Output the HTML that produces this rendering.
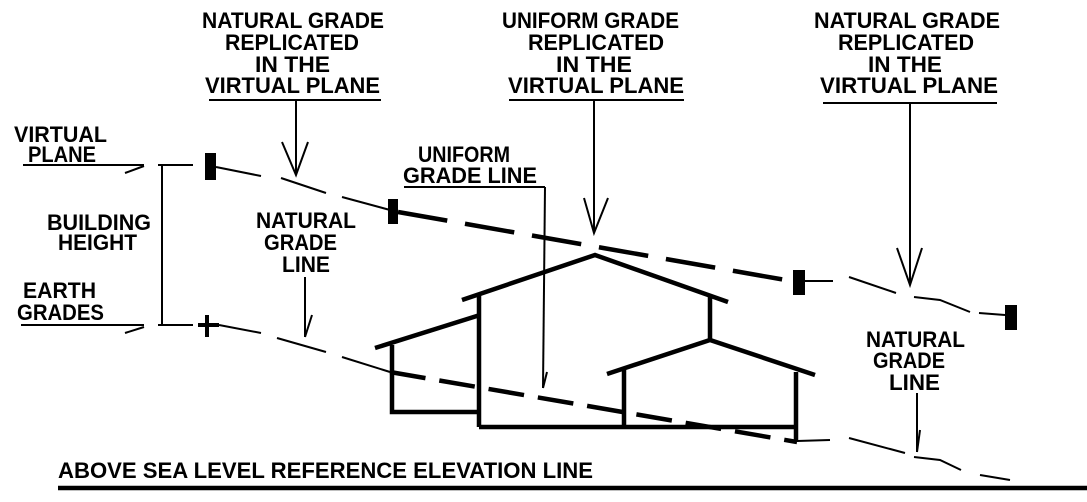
<!DOCTYPE html>
<html><head><meta charset="utf-8"><style>html,body{margin:0;padding:0;background:#fff}svg{display:block}</style></head>
<body>
<svg width="1087" height="502" viewBox="0 0 1087 502" xmlns="http://www.w3.org/2000/svg">
<g font-family="Liberation Sans, sans-serif" font-size="22" font-weight="bold" fill="#000">
<text x="202" y="28" textLength="182" lengthAdjust="spacingAndGlyphs">NATURAL GRADE</text>
<text x="225" y="50" textLength="134" lengthAdjust="spacingAndGlyphs">REPLICATED</text>
<text x="255" y="72" textLength="75" lengthAdjust="spacingAndGlyphs">IN THE</text>
<text x="205" y="93" textLength="175" lengthAdjust="spacingAndGlyphs">VIRTUAL PLANE</text>

<text x="502" y="28" textLength="177" lengthAdjust="spacingAndGlyphs">UNIFORM GRADE</text>
<text x="528" y="50" textLength="136" lengthAdjust="spacingAndGlyphs">REPLICATED</text>
<text x="556" y="72" textLength="76" lengthAdjust="spacingAndGlyphs">IN THE</text>
<text x="508" y="93" textLength="176" lengthAdjust="spacingAndGlyphs">VIRTUAL PLANE</text>

<text x="814" y="28" textLength="186" lengthAdjust="spacingAndGlyphs">NATURAL GRADE</text>
<text x="838" y="50" textLength="136" lengthAdjust="spacingAndGlyphs">REPLICATED</text>
<text x="868" y="72" textLength="74" lengthAdjust="spacingAndGlyphs">IN THE</text>
<text x="820" y="93" textLength="178" lengthAdjust="spacingAndGlyphs">VIRTUAL PLANE</text>

<text x="14" y="142" textLength="93" lengthAdjust="spacingAndGlyphs">VIRTUAL</text>
<text x="28" y="162" textLength="68" lengthAdjust="spacingAndGlyphs">PLANE</text>
<text x="47" y="230" textLength="104" lengthAdjust="spacingAndGlyphs">BUILDING</text>
<text x="58" y="250" textLength="79" lengthAdjust="spacingAndGlyphs">HEIGHT</text>
<text x="23" y="298" textLength="73" lengthAdjust="spacingAndGlyphs">EARTH</text>
<text x="17" y="320" textLength="87" lengthAdjust="spacingAndGlyphs">GRADES</text>

<text x="418" y="162" textLength="92" lengthAdjust="spacingAndGlyphs">UNIFORM</text>
<text x="403" y="183" textLength="134" lengthAdjust="spacingAndGlyphs">GRADE LINE</text>

<text x="256" y="228" textLength="100" lengthAdjust="spacingAndGlyphs">NATURAL</text>
<text x="264" y="250" textLength="73" lengthAdjust="spacingAndGlyphs">GRADE</text>
<text x="282" y="272" textLength="48" lengthAdjust="spacingAndGlyphs">LINE</text>

<text x="866" y="347" textLength="99" lengthAdjust="spacingAndGlyphs">NATURAL</text>
<text x="873" y="368" textLength="72" lengthAdjust="spacingAndGlyphs">GRADE</text>
<text x="889" y="390" textLength="51" lengthAdjust="spacingAndGlyphs">LINE</text>

<text x="58" y="478" textLength="535" lengthAdjust="spacingAndGlyphs">ABOVE SEA LEVEL REFERENCE ELEVATION LINE</text>
</g>

<g stroke="#000" fill="none" stroke-width="2">
<line x1="209" y1="100" x2="381" y2="100"/>
<line x1="509" y1="100" x2="684" y2="100"/>
<line x1="823" y1="103" x2="997" y2="103"/>
<line x1="23" y1="165" x2="144" y2="165"/>
<line x1="21" y1="325" x2="144" y2="325"/>
<line x1="404" y1="187" x2="545" y2="187"/>
<line x1="296" y1="100" x2="296" y2="175"/>
<polyline points="282,142 296,175 308,142"/>
<line x1="594" y1="100" x2="594" y2="233"/>
<polyline points="584,198 594,233 608,198"/>
<line x1="910" y1="103" x2="910" y2="285"/>
<polyline points="897,248 910,285 922,248"/>
<line x1="545" y1="187" x2="543" y2="388"/>
<line x1="547" y1="372" x2="543" y2="388"/>
<line x1="305" y1="277" x2="305" y2="337"/>
<line x1="312" y1="315" x2="305" y2="337"/>
<line x1="917" y1="393" x2="917" y2="452"/>
<line x1="920" y1="430" x2="917" y2="452"/>
<line x1="125" y1="173" x2="144" y2="166"/>
<line x1="125" y1="333" x2="144" y2="327"/>
<line x1="158" y1="165" x2="193" y2="165"/>
<line x1="158" y1="325" x2="193" y2="325"/>
<line x1="162" y1="165" x2="162" y2="325"/>
<polyline points="216,167 261,176"/>
<line x1="281" y1="178" x2="326" y2="193"/>
<line x1="342" y1="197" x2="390" y2="210"/>
<line x1="805" y1="281" x2="833" y2="281"/>
<line x1="849" y1="277" x2="896" y2="293"/>
<polyline points="914,297 940,300 970,312"/>
<line x1="979" y1="313" x2="1005" y2="315"/>
<line x1="198" y1="325" x2="219" y2="325" stroke-width="4"/>
<line x1="207" y1="315" x2="207" y2="337" stroke-width="4"/>
<line x1="219" y1="325" x2="261" y2="333"/>
<line x1="277" y1="338" x2="326" y2="352"/>
<line x1="342" y1="357" x2="390" y2="372"/>
<line x1="797" y1="441" x2="830" y2="440"/>
<line x1="849" y1="438" x2="905" y2="453"/>
<polyline points="914,457 940,460 961,470"/>
<line x1="980" y1="475" x2="1010" y2="480"/>
</g>

<g stroke="#000" fill="none" stroke-width="4.5">
<line x1="398" y1="212" x2="797" y2="282" stroke-dasharray="50,18"/>
<line x1="390" y1="372" x2="797" y2="442" stroke-dasharray="36,14"/>
<line x1="375" y1="348" x2="480" y2="315"/>
<polyline points="392,345 392,412 479,412"/>
<polyline points="462,300 595,255 728,302"/>
<line x1="479" y1="295" x2="479" y2="427"/>
<line x1="479" y1="427" x2="796" y2="427"/>
<line x1="710" y1="297" x2="710" y2="340"/>
<polyline points="607,374 710,340 815,375"/>
<line x1="624" y1="370" x2="624" y2="427"/>
<line x1="796" y1="372" x2="796" y2="442"/>
<line x1="58" y1="488" x2="1087" y2="488"/>
</g>

<g fill="#000">
<rect x="205" y="153" width="11" height="27"/>
<rect x="388" y="199" width="10" height="25"/>
<rect x="793" y="270" width="12" height="25"/>
<rect x="1005" y="305" width="12" height="25"/>
</g>
</svg>
</body></html>
